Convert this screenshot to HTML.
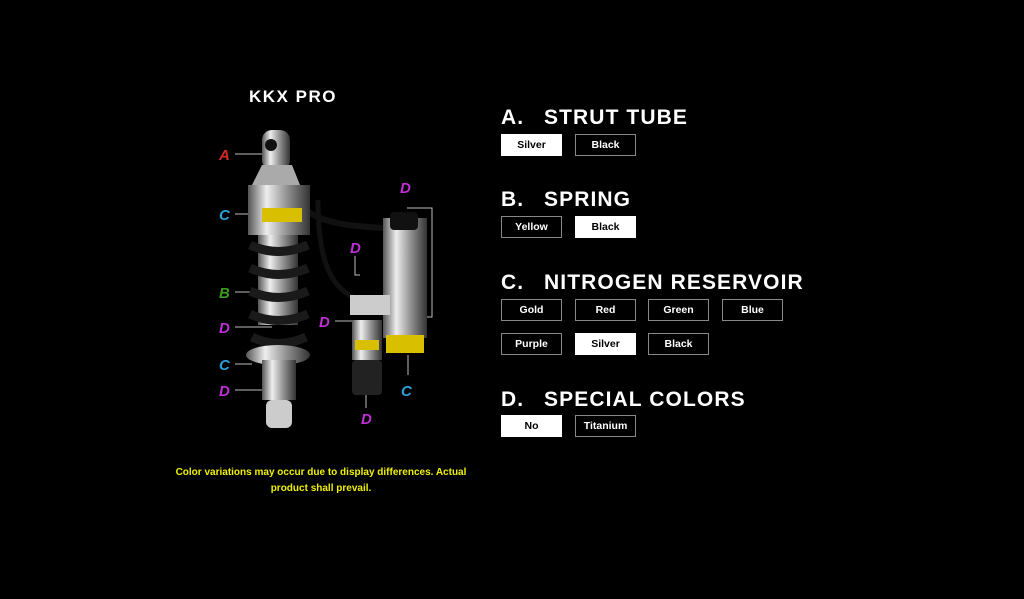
<!DOCTYPE html>
<html><head><meta charset="utf-8"><style>
body{margin:0;background:#000;width:1024px;height:599px;overflow:hidden;position:relative;font-family:"Liberation Sans",sans-serif;color:#fff}
.h{position:absolute;font-size:21px;font-weight:bold;letter-spacing:1.1px;line-height:24px;white-space:nowrap}
.h span{position:absolute;left:43px}
.b{position:absolute;width:59px;height:20px;border:1px solid #888;font-size:10.5px;font-weight:bold;text-align:center;line-height:20px;color:#fff;background:#000}
.b.s{background:#fff;color:#000;border-color:#fff}
.note{position:absolute;left:161px;top:465px;width:320px;text-align:center;color:#f0f000;font-size:10px;line-height:16px;font-weight:bold}
.title{position:absolute;left:249px;top:87px;font-size:17px;font-weight:bold;letter-spacing:1.5px}
</style></head><body>
<div class="title">KKX PRO</div>
<svg style="position:absolute;left:0;top:0" width="1024" height="599">
<defs>
<linearGradient id="m" x1="0" x2="1"><stop offset="0" stop-color="#555"/><stop offset=".3" stop-color="#eee"/><stop offset=".6" stop-color="#999"/><stop offset="1" stop-color="#333"/></linearGradient>
</defs>
<g stroke="#bbb" stroke-width="1" fill="none">
<line x1="235" y1="154" x2="262" y2="154"/><line x1="235" y1="214" x2="250" y2="214"/>
<line x1="235" y1="292" x2="252" y2="292"/><line x1="235" y1="327" x2="272" y2="327"/>
<line x1="235" y1="364" x2="252" y2="364"/><line x1="235" y1="390" x2="262" y2="390"/>
<polyline points="407,208 432,208 432,317 420,317"/>
<polyline points="355,256 355,275 360,275"/><line x1="335" y1="321" x2="352" y2="321"/>
<line x1="408" y1="355" x2="408" y2="375"/><line x1="366" y1="395" x2="366" y2="408"/>
</g>
<path d="M290 185 C300 215 320 225 385 228" stroke="#111" stroke-width="6" fill="none"/>
<path d="M318 200 C318 260 330 290 360 300" stroke="#111" stroke-width="5" fill="none"/>
<rect x="262" y="130" width="28" height="40" rx="10" fill="url(#m)"/>
<circle cx="271" cy="145" r="6" fill="#111"/>
<path d="M252 185 L262 165 L292 165 L300 185Z" fill="#aaa"/>
<rect x="248" y="185" width="62" height="50" fill="url(#m)"/>
<rect x="262" y="208" width="40" height="14" fill="#d8c000"/>
<rect x="258" y="235" width="40" height="90" fill="url(#m)"/>
<g fill="none" stroke="#1a1a1a" stroke-width="9">
<path d="M250 245 Q278 258 308 245"/><path d="M250 268 Q278 281 308 268"/><path d="M250 291 Q278 304 308 291"/><path d="M250 314 Q278 327 308 314"/><path d="M252 337 Q278 350 306 337"/>
</g>
<ellipse cx="278" cy="355" rx="32" ry="10" fill="url(#m)"/>
<rect x="262" y="360" width="34" height="40" fill="url(#m)"/>
<rect x="266" y="400" width="26" height="28" rx="6" fill="#ccc"/>
<rect x="383" y="218" width="44" height="120" fill="url(#m)"/>
<rect x="390" y="212" width="28" height="18" rx="4" fill="#111"/>
<rect x="386" y="335" width="38" height="18" fill="#d8c000"/>
<rect x="350" y="295" width="40" height="20" fill="#ccc"/>
<rect x="352" y="320" width="30" height="40" fill="url(#m)"/>
<rect x="355" y="340" width="24" height="10" fill="#d8c000"/>
<rect x="352" y="360" width="30" height="35" rx="4" fill="#222"/>
<g font-family="Liberation Sans,sans-serif" font-weight="bold" font-style="italic" font-size="15">
<text x="219" y="160" fill="#d42a2a">A</text>
<text x="219" y="220" fill="#2aa0d8">C</text>
<text x="219" y="298" fill="#3a9a22">B</text>
<text x="219" y="333" fill="#c030d8">D</text>
<text x="219" y="370" fill="#2aa0d8">C</text>
<text x="219" y="396" fill="#c030d8">D</text>
<text x="400" y="193" fill="#c030d8">D</text>
<text x="350" y="253" fill="#c030d8">D</text>
<text x="319" y="327" fill="#c030d8">D</text>
<text x="401" y="396" fill="#2aa0d8">C</text>
<text x="361" y="424" fill="#c030d8">D</text>
</g>
</svg>
<div class="h" style="left:501px;top:106px">A.<span>STRUT TUBE</span></div>
<div class="b s" style="left:501px;top:134px">Silver</div><div class="b" style="left:575px;top:134px">Black</div>
<div class="h" style="left:501px;top:188px">B.<span>SPRING</span></div>
<div class="b" style="left:501px;top:216px">Yellow</div><div class="b s" style="left:575px;top:216px">Black</div>
<div class="h" style="left:501px;top:271px">C.<span>NITROGEN RESERVOIR</span></div>
<div class="b" style="left:501px;top:299px">Gold</div><div class="b" style="left:575px;top:299px">Red</div><div class="b" style="left:648px;top:299px">Green</div><div class="b" style="left:722px;top:299px">Blue</div>
<div class="b" style="left:501px;top:333px">Purple</div><div class="b s" style="left:575px;top:333px">Silver</div><div class="b" style="left:648px;top:333px">Black</div>
<div class="h" style="left:501px;top:388px">D.<span>SPECIAL COLORS</span></div>
<div class="b s" style="left:501px;top:415px">No</div><div class="b" style="left:575px;top:415px">Titanium</div>
<div class="note">Color variations may occur due to display differences. Actual product shall prevail.</div>
</body></html>
